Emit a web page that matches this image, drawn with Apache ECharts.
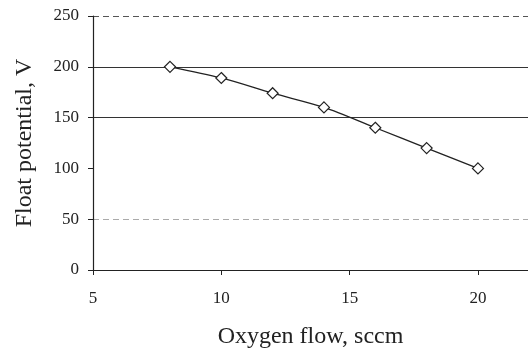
<!DOCTYPE html>
<html><head><meta charset="utf-8">
<script src="https://cdn.jsdelivr.net/npm/echarts@6/dist/echarts.min.js"></script>
<style>html,body{margin:0;padding:0;background:#fff}#c{width:528px;height:354px}</style>
</head><body><div id="c"></div>
<script>
const oxygenFlow = [8, 10, 12, 14, 16, 18, 20];
const floatPotential = [200, 189, 174, 160, 140, 120, 100];
const xTicks = [5, 10, 15, 20];
const xTitle = 'Oxygen flow, sccm';
const yTitle = 'Float potential, V';

const chart = echarts.init(document.getElementById('c'));
const font = 'Liberation Serif';
chart.setOption({
  animation: false,
  backgroundColor: '#fff',
  grid: { left: 93, top: 16, right: 0, bottom: 83, containLabel: false },
  xAxis: {
    type: 'value', min: 5, max: 21.95, interval: 5,
    name: xTitle, nameLocation: 'middle', nameGap: 55,
    nameTextStyle: { fontFamily: font, fontSize: 24, color: '#222' },
    axisLine: { show: true, onZero: false, lineStyle: { color: '#222', width: 1 } },
    axisTick: { show: true, length: 5, customValues: xTicks, lineStyle: { color: '#222' } },
    axisLabel: { fontFamily: font, fontSize: 17, color: '#222', margin: 20, customValues: xTicks },
    splitLine: { show: false }
  },
  yAxis: [{
    type: 'value', min: 0, max: 250, interval: 50,
    name: yTitle, nameLocation: 'middle', nameGap: 56,
    nameTextStyle: { fontFamily: font, fontSize: 24, color: '#222' },
    axisLine: { show: true, lineStyle: { color: '#222', width: 1.2 } },
    axisTick: { show: true, length: 5, lineStyle: { color: '#222' } },
    axisLabel: { fontFamily: font, fontSize: 17, color: '#222', margin: 14 },
    splitLine: { show: true,
      lineStyle: { color: ['transparent', 'transparent', 'transparent', '#333', '#333', 'transparent'], width: 1.2 } }
  }, {
    type: 'value', min: 0, max: 250, interval: 50, position: 'left',
    axisLine: { show: false }, axisTick: { show: false }, axisLabel: { show: false },
    splitLine: { show: true,
      lineStyle: { type: [6, 4], color: ['#555', '#aaa', 'transparent', 'transparent', 'transparent', '#555'], width: 1 } }
  }],
  series: [{
    type: 'line',
    data: oxygenFlow.map((x, i) => [x, floatPotential[i]]),
    smooth: 0.3,
    symbol: 'diamond', symbolSize: 11,
    lineStyle: { color: '#222', width: 1.3 },
    itemStyle: { color: '#fff', borderColor: '#222', borderWidth: 1.2 }
  }]
});
</script></body></html>
